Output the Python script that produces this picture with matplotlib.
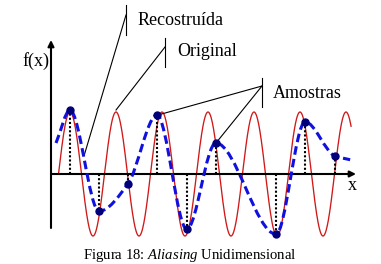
import numpy as np
import matplotlib
matplotlib.use("Agg")
import matplotlib.pyplot as plt
from matplotlib.path import Path
from matplotlib.patches import PathPatch

# ---------------- data (x in periods of the original signal, y in amplitude units) -------------
orig_period = 1.0
orig_amplitude = 1.0
orig_start = 0.0
orig_end = 6.36

sample_t = [0.25, 0.88, 1.51, 2.14, 2.79, 3.42, 4.73, 5.36, 6.01]
sample_v = [1.03, -0.60, -0.16, 0.95, -0.89, 0.50, -0.97, 0.84, 0.29]

# reconstructed curve knots: start point, the samples, end point
recon_t = [-0.054] + sample_t + [6.34]
recon_v = [0.50] + sample_v + [0.23]

labels = ["Recostruída", "Original", "Amostras"]
axis_labels = ["f(x)", "x"]
caption = r"Figura 18: $\mathit{Aliasing}$ Unidimensional"

# ---------------- layout helpers (pixel -> data) -------------
W, H = 381, 264
X0, XS = 58.5, 46.0     # pixel of t=0, pixels per period
Y0, YS = 174.0, 62.0    # pixel of v=0, pixels per amplitude unit
def px(x):
    return (x - X0) / XS
def py(y):
    return (Y0 - y) / YS

plt.rcParams["mathtext.fontset"] = "custom"
plt.rcParams["mathtext.rm"] = "Liberation Serif"
plt.rcParams["mathtext.it"] = "Liberation Serif:italic"

fig = plt.figure(figsize=(W / 100, H / 100), dpi=100)
ax = fig.add_axes([0, 0, 1, 1])
ax.set_xlim(px(0), px(W))
ax.set_ylim(py(H), py(0))
ax.axis("off")

serif = "Liberation Serif"
red = "#d01818"
blue = "#1010e0"
navy = "#00007a"

# original signal
t = np.linspace(orig_start, orig_end, 800)
ax.plot(t, orig_amplitude * np.sin(2 * np.pi * t / orig_period), color=red, lw=0.95, zorder=2)

# axes with arrows
ax.annotate("", xy=(px(51), py(40)), xytext=(px(51), py(228)),
            arrowprops=dict(arrowstyle="-|>", lw=1.5, color="black", mutation_scale=9,
                            shrinkA=0, shrinkB=0), zorder=3)
ax.annotate("", xy=(px(356), 0), xytext=(px(51), 0),
            arrowprops=dict(arrowstyle="-|>", lw=1.5, color="black", mutation_scale=9,
                            shrinkA=0, shrinkB=0), zorder=3)

# sample stems
for st, sv in zip(sample_t, sample_v):
    ax.plot([st, st], [0, sv], color="black", lw=1.5, ls=(0, (1.0, 1.0)), zorder=3)

# reconstructed curve: cubic Hermite (monotone slopes) as Bezier path
xk = np.array(recon_t)
yk = np.array(recon_v)
h = np.diff(xk)
d = np.diff(yk) / h
m = np.zeros_like(xk)
m[0] = d[0]
m[-1] = d[-1]
for k in range(1, len(xk) - 1):
    if d[k - 1] * d[k] <= 0:
        m[k] = 0.0
    else:
        w1 = 2 * h[k] + h[k - 1]
        w2 = h[k] + 2 * h[k - 1]
        m[k] = (w1 + w2) / (w1 / d[k - 1] + w2 / d[k])
verts = [(xk[0], yk[0])]
codes = [Path.MOVETO]
for k in range(len(xk) - 1):
    verts += [(xk[k] + h[k] / 3, yk[k] + m[k] * h[k] / 3),
              (xk[k + 1] - h[k] / 3, yk[k + 1] - m[k + 1] * h[k] / 3),
              (xk[k + 1], yk[k + 1])]
    codes += [Path.CURVE4] * 3
ax.add_patch(PathPatch(Path(verts, codes), fill=False, edgecolor=blue, lw=2.2,
                       ls=(0, (2.8, 1.4)), zorder=4))

# sample dots
ax.plot(sample_t, sample_v, "o", color=navy, ms=5.0, zorder=5)

# leader lines
lk = dict(color="black", lw=0.8, zorder=3)
ax.plot([px(126), px(126)], [py(5), py(35)], **lk)
ax.plot([px(126), px(84)], [py(15), py(156)], **lk)
ax.plot([px(165), px(165)], [py(38), py(67)], **lk)
ax.plot([px(165), px(116)], [py(47), py(110)], **lk)
ax.plot([px(262), px(262)], [py(78), py(107)], **lk)
ax.plot([px(262), px(158)], [py(86), py(115)], **lk)
ax.plot([px(262), px(216)], [py(86), py(143)], **lk)

fs = 13
ax.text(px(138), py(25), labels[0], family=serif, fontsize=fs, ha="left", va="baseline")
ax.text(px(177), py(56), labels[1], family=serif, fontsize=fs, ha="left", va="baseline")
ax.text(px(273), py(98), labels[2], family=serif, fontsize=fs, ha="left", va="baseline")
ax.text(px(22), py(66), axis_labels[0], family=serif, fontsize=fs, ha="left", va="baseline")
ax.text(px(348), py(190), axis_labels[1], family=serif, fontsize=fs, ha="left", va="baseline")
ax.text(px(190), py(259), caption, family=serif, fontsize=10.6, ha="center", va="baseline")

fig.savefig("out.png", dpi=100)
